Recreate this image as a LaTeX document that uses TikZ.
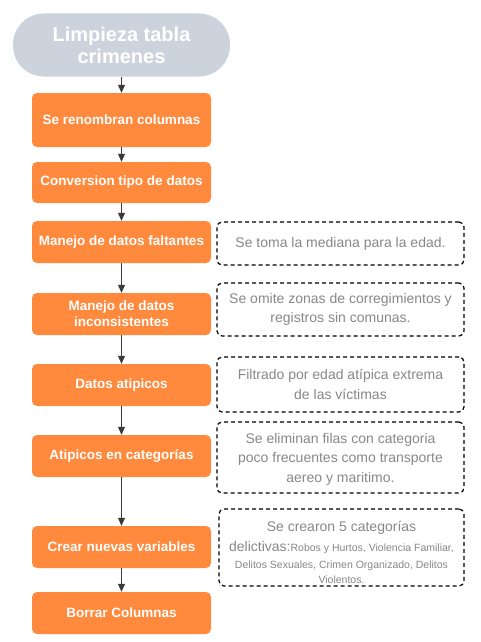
\documentclass[tikz,border=0pt]{standalone}
\usepackage{fontspec}
\setmainfont{Liberation Sans}
\usetikzlibrary{arrows.meta}
\definecolor{orng}{HTML}{FF8A3D}
\definecolor{ttl}{HTML}{CDD3DC}
\definecolor{ntxt}{HTML}{888888}
\definecolor{arr}{HTML}{3A3A3A}
\begin{document}
\begin{tikzpicture}[x=1pt,y=-1pt,
 stepbox/.style={fill=orng, rounded corners=5pt, minimum width=179pt, text=white,
   font=\fontsize{13.5}{16}\selectfont\bfseries, align=center, inner sep=0pt},
 notebox/.style={draw=black, dash pattern=on 4pt off 3pt, line width=1.2pt, rounded corners=5pt,
   minimum width=247pt, text=ntxt, font=\fontsize{14}{19.5}\selectfont, align=center, inner sep=0pt},
 conn/.style={draw=arr, line width=1pt, -{Triangle[length=8pt,width=7pt]}}]
\fill[white] (0,0) rectangle (480,642);
\useasboundingbox (0,0) rectangle (480,642);

\node[fill=ttl, rounded corners=31pt, minimum width=217pt, minimum height=63pt, inner sep=0pt,
  text=white, font=\fontsize{20}{22}\selectfont\bfseries, align=center] (title) at (121.5,45) {Limpieza tabla\\crimenes};

\node[stepbox, minimum height=54pt] (b1) at (121.5,120) {Se renombran columnas};
\node[stepbox, minimum height=41pt] (b2) at (121.5,182.5) {Conversion tipo de datos};
\node[stepbox, minimum height=42pt] (b3) at (121.5,242) {Manejo de datos faltantes};
\node[stepbox, minimum height=42pt] (b4) at (121.5,314) {Manejo de datos\\inconsistentes};
\node[stepbox, minimum height=42pt] (b5) at (121.5,385) {Datos atipicos};
\node[stepbox, minimum height=42pt] (b6) at (121.5,456) {Atipicos en categorías};
\node[stepbox, minimum height=42pt] (b7) at (121.5,547) {Crear nuevas variables};
\node[stepbox, minimum height=42pt] (b8) at (121.5,613) {Borrar Columnas};

\node[notebox, minimum height=43pt] (n3) at (340.5,243.5) {Se toma la mediana para la edad.};
\node[notebox, minimum height=53pt] (n4) at (340.5,309.5) {Se omite zonas de corregimientos y\\registros sin comunas.};
\node[notebox, minimum height=55pt] (n5) at (340.5,384.5) {Filtrado por edad atípica extrema\\de las víctimas};
\node[notebox, minimum height=71pt] (n6) at (340.5,457.5) {\rule{0pt}{13pt}Se eliminan filas con categoria\\poco frecuentes como transporte\\aereo y maritimo.};
\node[notebox, minimum height=77pt, minimum width=245pt] (n7) at (341.5,547.5) {\rule{0pt}{20pt}Se crearon 5 categorías\\[1pt]
  delictivas:{\fontsize{10.5}{15.5}\selectfont Robos y Hurtos, Violencia Familiar,}\\[-3pt]
  {\fontsize{10.5}{15.5}\selectfont Delitos Sexuales, Crimen Organizado, Delitos}\\[-4pt]
  {\fontsize{10.5}{15.5}\selectfont Violentos.}};

\draw[conn] (title) -- (b1);
\draw[conn] (b1) -- (b2);
\draw[conn] (b2) -- (b3);
\draw[conn] (b3) -- (b4);
\draw[conn] (b4) -- (b5);
\draw[conn] (b5) -- (b6);
\draw[conn] (b6) -- (b7);
\draw[conn] (b7) -- (b8);
\end{tikzpicture}
\end{document}
